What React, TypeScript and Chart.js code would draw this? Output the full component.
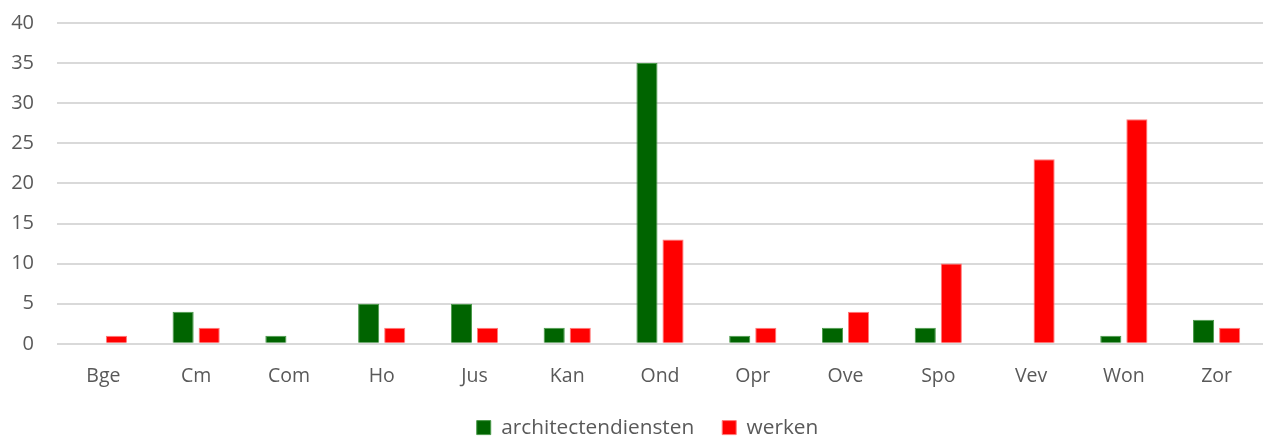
import React, { useEffect, useRef } from "react";
import { Chart, registerables } from "chart.js";

Chart.register(...registerables);

const categories = ["Bge", "Cm", "Com", "Ho", "Jus", "Kan", "Ond", "Opr", "Ove", "Spo", "Vev", "Won", "Zor"];
const architectendiensten = [0, 4, 1, 5, 5, 2, 35, 1, 2, 2, 0, 1, 3];
const werken = [1, 2, 0, 2, 2, 2, 13, 2, 4, 10, 23, 28, 2];
const seriesNames = ["architectendiensten", "werken"];

const shiftLegend = {
  id: "shiftLegend",
  afterLayout(chart: any) {
    if (chart.legend) {
      chart.legend.left += 12;
      chart.legend.right += 12;
    }
  },
};

export default function App() {
  const ref = useRef<HTMLCanvasElement | null>(null);
  useEffect(() => {
    document.body.style.margin = "0";
    const font = "'Open Sans', 'Liberation Sans', sans-serif";
    const chart = new Chart(ref.current!, {
      type: "bar",
      data: {
        labels: categories,
        datasets: [
          {
            label: seriesNames[0],
            data: architectendiensten,
            backgroundColor: "#006400",
            borderColor: "#4a9a4a",
            borderWidth: 1,
            categoryPercentage: 0.562,
            barPercentage: 0.81,
          },
          {
            label: seriesNames[1],
            data: werken,
            backgroundColor: "#ff0000",
            borderColor: "#ff7a7a",
            borderWidth: 1,
            categoryPercentage: 0.562,
            barPercentage: 0.81,
          },
        ],
      },
      plugins: [shiftLegend],
      options: {
        animation: false,
        responsive: false,
        maintainAspectRatio: false,
        layout: { padding: { left: 8, right: 2, top: 23, bottom: -12 } },
        plugins: {
          tooltip: { enabled: false },
          legend: {
            position: "bottom",
            labels: {
              boxWidth: 14,
              boxHeight: 14,
              padding: 28,
              color: "#595959",
              font: { family: font, size: 20.8 },
            },
          },
        },
        scales: {
          x: {
            grid: { display: false },
            border: { display: false },
            ticks: { color: "#595959", font: { family: font, size: 19.5 }, padding: 13 },
            afterFit: (axis: any) => {
              axis.height -= 12;
            },
          },
          y: {
            min: 0,
            max: 40,
            ticks: {
              stepSize: 5,
              color: "#595959",
              font: { family: font, size: 20 },
              padding: 23,
            },
            grid: { color: "#d9d9d9", lineWidth: 2, drawTicks: false },
            border: { display: false },
            afterFit: (axis: any) => {
              axis.width = 49;
              axis.paddingTop = 0;
              axis.paddingBottom = 0;
            },
          },
        },
      },
    });
    return () => chart.destroy();
  }, []);
  return (
    <div style={{ width: 1265, height: 436 }}>
      <canvas ref={ref} width={1265} height={436} style={{ display: "block" }} />
    </div>
  );
}
